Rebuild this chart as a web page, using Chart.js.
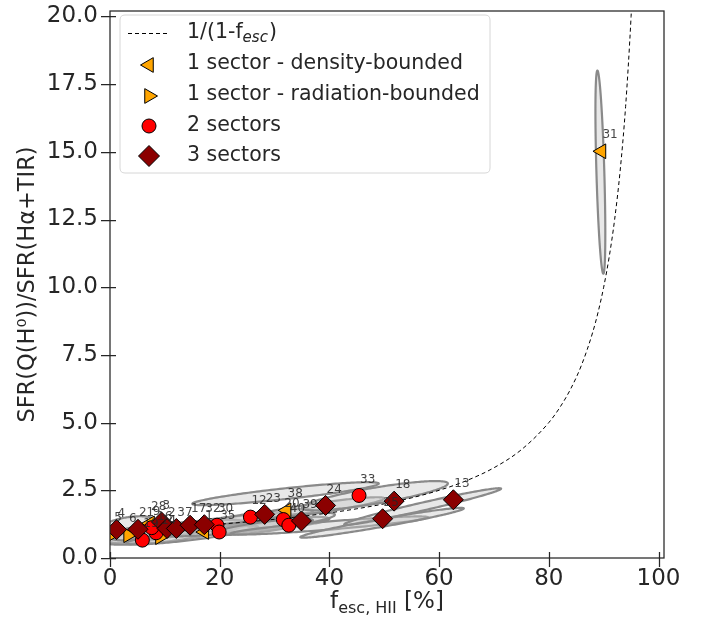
<!DOCTYPE html>
<html><head><meta charset="utf-8">
<script src="https://cdn.jsdelivr.net/npm/chart.js@4.4.0/dist/chart.umd.min.js"></script>
<style>html,body{margin:0;padding:0;background:#fff}#wrap{width:707px;height:625px}</style>
</head><body><div id="wrap"><canvas id="c" width="707" height="625"></canvas></div>
<script>
// ---- data ----
const xTicks = [0, 20, 40, 60, 80, 100];
const yTicks = [0, 2.5, 5, 7.5, 10, 12.5, 15, 17.5, 20];

// dashed curve 1/(1-f_esc)
const curveX = [0, 5, 10, 15, 20, 25, 30, 35, 40, 45, 50, 55, 60, 65, 70, 75, 80, 82, 84, 86, 88, 89, 90, 91, 92, 93, 94, 95, 95.5];
const curveY = [1.000, 1.053, 1.111, 1.176, 1.250, 1.333, 1.429, 1.538, 1.667, 1.818, 2.000, 2.222, 2.500, 2.857, 3.333, 4.000, 5.000, 5.556, 6.250, 7.143, 8.333, 9.091, 10.00, 11.11, 12.50, 14.29, 16.67, 20.00, 22.22];

// 1 sector - density-bounded
const dbX = [7.3, 17.2, 32.2, 89.6];
const dbY = [1.28, 0.96, 1.76, 15.02];
const dbLab = ['28', '1', '38', '31'];
// 1 sector - radiation-bounded
const rbX = [0.6, 3.3, 9.1];
const rbY = [0.90, 0.84, 0.77];
const rbLab = ['5', '6', '14'];
// 2 sectors
const twoX = [5.9, 8.4, 7.6, 19.5, 19.9, 25.6, 31.6, 32.6, 45.4];
const twoY = [0.66, 0.93, 1.12, 1.21, 0.96, 1.51, 1.42, 1.21, 2.31];
const twoLab = ['19', '16', '9', '30', '35', '12', '20', '40', '33'];
// 3 sectors
const threeX = [1.2, 5.1, 9.4, 10.4, 12.1, 14.6, 17.2, 28.2, 34.9, 39.3, 49.7, 51.8, 62.6];
const threeY = [1.05, 1.06, 1.33, 1.09, 1.09, 1.21, 1.23, 1.61, 1.37, 1.94, 1.45, 2.10, 2.15];
const threeLab = ['4', '21', '3', '2', '37', '17', '32', '23', '39', '24', '25', '18', '13'];

// uncertainty ellipses (centre, half-extent in x, half-extent in y, correlation)
const ellCx  = [89.4, 3, 6, 12, 18, 26, 30, 33, 10, 15, 22, 28, 32, 38, 40, 48.3, 49.6, 57];
const ellCy  = [14.25, 1.05, 0.9, 0.95, 1.2, 1.45, 1.25, 1.4, 1.0, 0.85, 1.1, 1.15, 2.375, 1.85, 1.2, 2.3, 1.3, 1.9];
const ellSx  = [0.9, 6, 7, 13, 15, 11, 10, 8, 10, 12, 12, 9, 17, 12, 18, 13.3, 14.9, 14.3];
const ellSy  = [3.75, 0.492, 0.361, 0.461, 0.457, 0.361, 0.269, 0.283, 0.35, 0.35, 0.30, 0.30, 0.424, 0.394, 0.335, 0.541, 0.551, 0.677];
const ellRho = [-0.6, 0.406, 0.555, 0.759, 0.876, 0.832, 0.743, 0.707, 0.70, 0.85, 0.80, 0.80, 0.882, 0.889, 0.894, 0.832, 0.962, 0.975];

const TXT = '#262626';
const FONT = 'DejaVu Sans';

const pts = (xs, ys) => xs.map((v, i) => ({x: v, y: ys[i]}));

const ellipsePlugin = {
  id: 'ellipses',
  beforeDatasetsDraw(chart) {
    const {ctx, chartArea: a, scales: {x, y}} = chart;
    ctx.save();
    ctx.beginPath(); ctx.rect(a.left, a.top, a.right - a.left, a.bottom - a.top); ctx.clip();
    for (let i = 0; i < ellCx.length; i++) {
      const r = ellRho[i], q = Math.sqrt(1 - r * r);
      ctx.beginPath();
      for (let k = 0; k <= 200; k++) {
        const t = k / 200 * 2 * Math.PI;
        const dx = ellCx[i] + ellSx[i] * Math.cos(t);
        const dy = ellCy[i] + ellSy[i] * (r * Math.cos(t) + q * Math.sin(t));
        const px = x.getPixelForValue(dx), py = y.getPixelForValue(dy);
        if (k) ctx.lineTo(px, py); else ctx.moveTo(px, py);
      }
      ctx.closePath();
      ctx.fillStyle = 'rgba(200,200,200,0.42)';
      ctx.fill();
      ctx.strokeStyle = '#8a8a8a';
      ctx.lineWidth = 2.2;
      ctx.stroke();
    }
    ctx.restore();
  }
};

const labelSets = {1: threeLab, 2: twoLab, 3: dbLab, 4: rbLab};

const framePlugin = {
  id: 'frame',
  afterDatasetsDraw(chart) {
    const {ctx, chartArea: a, scales: {x, y}} = chart;
    ctx.save();
    // point labels
    ctx.font = '12px "' + FONT + '"';
    ctx.fillStyle = 'rgba(38,38,38,0.85)';
    ctx.textAlign = 'left';
    ctx.textBaseline = 'middle';
    Object.keys(labelSets).forEach(di => {
      const meta = chart.getDatasetMeta(+di);
      meta.data.forEach((el, j) => {
        ctx.fillText(labelSets[di][j], el.x + 1, el.y - 16);
      });
    });
    // frame
    ctx.strokeStyle = TXT;
    ctx.lineWidth = 1.25;
    ctx.strokeRect(a.left, a.top, a.right - a.left, a.bottom - a.top);
    // ticks (in & out)
    ctx.beginPath();
    xTicks.forEach(v => {
      const px = Math.round(x.getPixelForValue(v)) + 0.5;
      ctx.moveTo(px, a.bottom - 6); ctx.lineTo(px, a.bottom + 9);
    });
    yTicks.forEach(v => {
      const py = Math.round(y.getPixelForValue(v)) + 0.5;
      ctx.moveTo(a.left - 9, py); ctx.lineTo(a.left + 6, py);
    });
    ctx.stroke();
    ctx.restore();
  },
  afterDraw(chart) {
    const {ctx, chartArea: a} = chart;
    ctx.save();
    // x-axis title with subscript
    const big = '23px "' + FONT + '"', small = '16px "' + FONT + '"';
    ctx.font = big; const w1 = ctx.measureText('f').width; const w3 = ctx.measureText(' [%]').width;
    ctx.font = small; const w2 = ctx.measureText('esc, HII').width;
    let sx = (a.left + a.right) / 2 - (w1 + w2 + w3) / 2;
    const base = 608;
    ctx.fillStyle = TXT; ctx.textBaseline = 'alphabetic'; ctx.textAlign = 'left';
    ctx.font = big; ctx.fillText('f', sx, base); sx += w1;
    ctx.font = small; ctx.fillText('esc, HII', sx, base + 5); sx += w2;
    ctx.font = big; ctx.fillText(' [%]', sx, base);

    // legend
    const L = 120, T = 15, R = 490, B = 173, rad = 5;
    ctx.beginPath();
    ctx.moveTo(L + rad, T); ctx.lineTo(R - rad, T); ctx.quadraticCurveTo(R, T, R, T + rad);
    ctx.lineTo(R, B - rad); ctx.quadraticCurveTo(R, B, R - rad, B);
    ctx.lineTo(L + rad, B); ctx.quadraticCurveTo(L, B, L, B - rad);
    ctx.lineTo(L, T + rad); ctx.quadraticCurveTo(L, T, L + rad, T);
    ctx.closePath();
    ctx.fillStyle = 'rgba(255,255,255,0.85)'; ctx.fill();
    ctx.strokeStyle = '#d6d6d6'; ctx.lineWidth = 1; ctx.stroke();

    const tx = 187;
    const rows = [33, 64, 95, 126, 156];
    ctx.font = '20.5px "' + FONT + '"';
    ctx.fillStyle = TXT; ctx.textBaseline = 'middle';
    // row 1: dashed line
    ctx.save(); ctx.strokeStyle = '#000'; ctx.lineWidth = 1; ctx.setLineDash([4, 3]);
    ctx.beginPath(); ctx.moveTo(128, rows[0] + 0.5); ctx.lineTo(170, rows[0] + 0.5); ctx.stroke(); ctx.restore();
    let x0 = tx;
    ctx.fillText('1/(1-f', x0, rows[0]); x0 += ctx.measureText('1/(1-f').width;
    ctx.font = 'italic 15px "' + FONT + '"'; ctx.fillText('esc', x0, rows[0] + 5); x0 += ctx.measureText('esc').width + 1;
    ctx.font = '20.5px "' + FONT + '"'; ctx.fillText(')', x0, rows[0]);
    ctx.fillText('1 sector - density-bounded', tx, rows[1]);
    ctx.fillText('1 sector - radiation-bounded', tx, rows[2]);
    ctx.fillText('2 sectors', tx, rows[3]);
    ctx.fillText('3 sectors', tx, rows[4]);
    const H = Chart.helpers;
    const mk = (style, rot, r, col, y) => {
      ctx.fillStyle = col; ctx.strokeStyle = '#000'; ctx.lineWidth = 1;
      H.drawPoint(ctx, {pointStyle: style, rotation: rot, radius: r, borderWidth: 1}, 149, y);
    };
    mk('triangle', -90, 8.5, '#FFA500', rows[1] + 1);
    mk('triangle', 90, 8.5, '#FFA500', rows[2] + 1);
    mk('circle', 0, 7, '#FF0000', rows[3]);
    mk('rectRot', 0, 10.5, '#8B0000', rows[4]);
    ctx.restore();
  }
};

const noPad = s => { s.paddingTop = 0; s.paddingBottom = 0; s.paddingLeft = 0; s.paddingRight = 0; };

new Chart(document.getElementById('c'), {
  type: 'scatter',
  data: {
    datasets: [
      {type: 'line', label: '1/(1-f_esc)', data: pts(curveX, curveY), showLine: true, borderColor: '#000', borderWidth: 1, borderDash: [4, 3], pointRadius: 0, cubicInterpolationMode: 'monotone', fill: false, order: 5, clip: 0},
      {label: '3 sectors', data: pts(threeX, threeY), pointStyle: 'rectRot', pointRadius: 10, backgroundColor: '#8B0000', borderColor: '#000', borderWidth: 1, order: 1, clip: 0},
      {label: '2 sectors', data: pts(twoX, twoY), pointStyle: 'circle', pointRadius: 7, backgroundColor: '#FF0000', borderColor: '#000', borderWidth: 1, order: 2, clip: 0},
      {label: '1 sector - density-bounded', data: pts(dbX, dbY), pointStyle: 'triangle', pointRotation: -90, pointRadius: 8.5, backgroundColor: '#FFA500', borderColor: '#000', borderWidth: 1, order: 3, clip: 0},
      {label: '1 sector - radiation-bounded', data: pts(rbX, rbY), pointStyle: 'triangle', pointRotation: 90, pointRadius: 8.5, backgroundColor: '#FFA500', borderColor: '#000', borderWidth: 1, order: 4, clip: 0}
    ]
  },
  options: {
    responsive: false, animation: false, devicePixelRatio: 1, events: [],
    layout: {padding: {top: 5, right: 43, left: 0, bottom: 0}},
    plugins: {legend: {display: false}, tooltip: {enabled: false}},
    scales: {
      x: {
        type: 'linear', min: 0, max: 101,
        afterBuildTicks: s => { s.ticks = xTicks.map(v => ({value: v})); },
        afterFit: s => { s.height = 67; noPad(s); },
        grid: {display: false, drawTicks: false}, border: {display: false},
        ticks: {font: {family: FONT, size: 23}, color: TXT, padding: 7, autoSkip: false, maxRotation: 0, callback: v => String(v)}
      },
      y: {
        type: 'linear', min: 0, max: 20.2,
        afterBuildTicks: s => { s.ticks = yTicks.map(v => ({value: v})); },
        afterFit: s => { s.width = 110; noPad(s); },
        grid: {display: false, drawTicks: false}, border: {display: false},
        ticks: {font: {family: FONT, size: 23}, color: TXT, padding: 12, autoSkip: false, callback: v => v.toFixed(1)},
        title: {display: true, text: 'SFR(Q(H⁰))/SFR(Hα+TIR)', font: {family: FONT, size: 22.5}, color: TXT, padding: {top: 15, bottom: 0}}
      }
    }
  },
  plugins: [ellipsePlugin, framePlugin]
});
</script>
</body></html>
